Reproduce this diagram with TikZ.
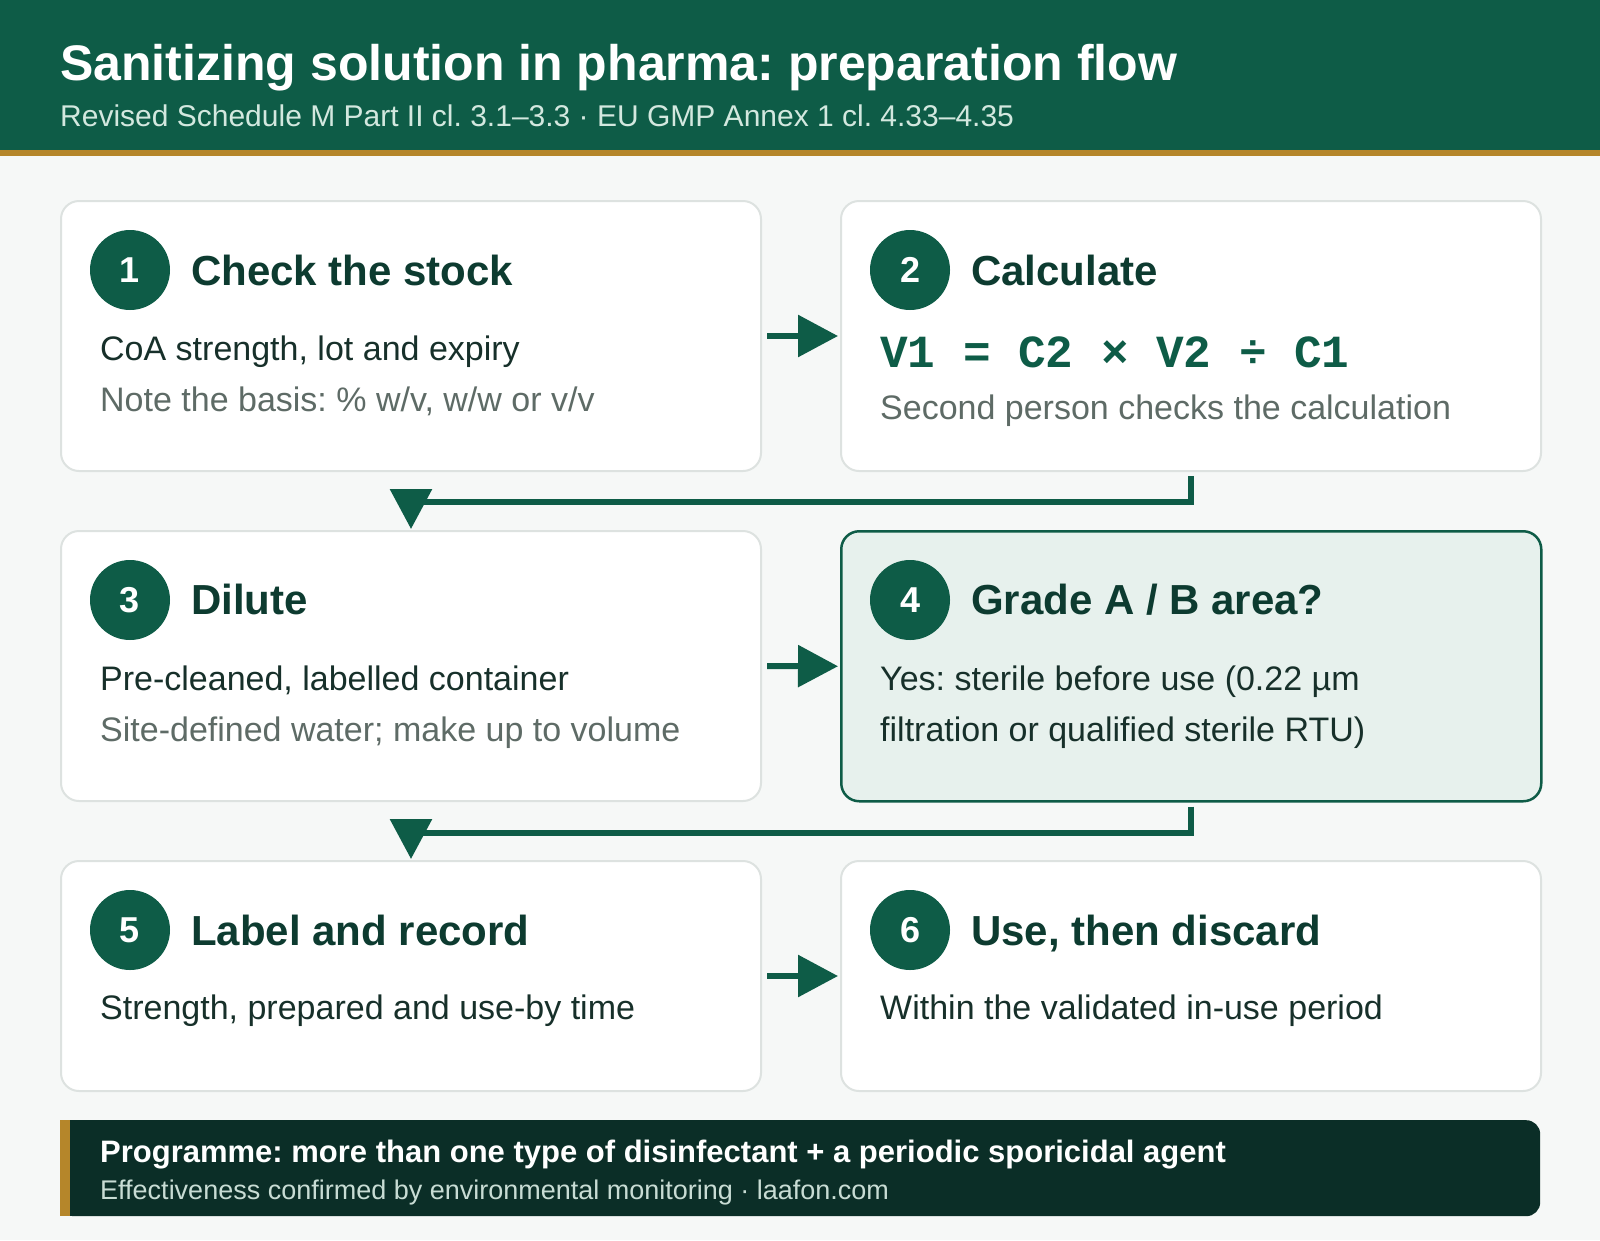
\documentclass[tikz,border=0pt]{standalone}
\usepackage{fontspec}
\setmainfont{Liberation Sans}
\newfontfamily\monob{Liberation Mono}
\usetikzlibrary{arrows.meta}
\frenchspacing
\definecolor{hdr}{HTML}{0E5C47}
\definecolor{gold}{HTML}{B5862A}
\definecolor{bg}{HTML}{F6F8F7}
\definecolor{cardline}{HTML}{DDE2E0}
\definecolor{ttl}{HTML}{0D3B30}
\definecolor{bodyc}{HTML}{17302A}
\definecolor{graytxt}{HTML}{5E6B66}
\definecolor{hilite}{HTML}{E7F1ED}
\definecolor{foot}{HTML}{0B2E27}
\definecolor{subt}{HTML}{D3E8DF}
\definecolor{footsub}{HTML}{C8DCD4}
\newcommand{\fsz}[1]{\fontsize{#1}{#1}\selectfont}
\begin{document}
\frenchspacing
\begin{tikzpicture}[x=1pt,y=-1pt,
  card/.style={draw=cardline, line width=2pt, fill=white, rounded corners=18pt,
    anchor=north west, minimum width=700pt, inner sep=0pt},
  hicard/.style={card, draw=hdr, line width=2.5pt, fill=hilite},
  num/.style={circle, fill=hdr, minimum size=80pt, inner sep=0pt, text=white,
    font=\bfseries\fsz{36}},
  ttlst/.style={anchor=base west, inner sep=0pt, text=ttl, font=\bfseries\fsz{42}},
  bodyst/.style={anchor=base west, inner sep=0pt, text=bodyc, font=\fsz{34}},
  grayst/.style={anchor=base west, inner sep=0pt, text=graytxt, font=\fsz{34}},
  conn/.style={draw=hdr, line width=6pt, -{Triangle[length=40pt,width=41pt]}}
]
\useasboundingbox (0,0) rectangle (1600,1240);
\fill[bg] (0,0) rectangle (1600,1240);
% header
\fill[hdr] (0,0) rectangle (1600,150);
\fill[gold] (0,150) rectangle (1600,156);
\node[anchor=base west, inner sep=0pt, text=white, font=\bfseries\fsz{50}] (title) at (60,80)
  {Sanitizing solution in pharma: preparation flow};
\node[anchor=base west, inner sep=0pt, text=subt, font=\fsz{30}] (subtitle) at (60,126)
  {Revised Schedule M Part II cl. 3.1–3.3 · EU GMP Annex 1 cl. 4.33–4.35};
% cards
\node[card, minimum height=270pt] (s1) at (60,200) {};
\node[card, minimum height=270pt] (s2) at (840,200) {};
\node[card, minimum height=270pt] (s3) at (60,530) {};
\node[hicard, minimum height=270pt] (s4) at (840,530) {};
\node[card, minimum height=230pt] (s5) at (60,860) {};
\node[card, minimum height=230pt] (s6) at (840,860) {};
% step 1
\node[num] (n1) at (130,270) {1};
\node[ttlst] (t1) at (191,285) {Check the stock};
\node[bodyst] (a1) at (100,360) {CoA strength, lot and expiry};
\node[grayst] (b1) at (100,411) {Note the basis: \% w/v, w/w or v/v};
% step 2
\node[num] (n2) at (910,270) {2};
\node[ttlst] (t2) at (971,285) {Calculate};
\node[anchor=base west, inner sep=0pt, text=hdr, font=\monob\bfseries\fsz{46}] (a2) at (880,367)
  {V1 = C2 × V2 ÷ C1};
\node[grayst] (b2) at (880,419) {Second person checks the calculation};
% step 3
\node[num] (n3) at (130,600) {3};
\node[ttlst] (t3) at (191,614) {Dilute};
\node[bodyst] (a3) at (100,690) {Pre-cleaned, labelled container};
\node[grayst] (b3) at (100,741) {Site-defined water; make up to volume};
% step 4
\node[num] (n4) at (910,600) {4};
\node[ttlst] (t4) at (971,614) {Grade A / B area?};
\node[bodyst] (a4) at (880,690) {Yes: sterile before use (0.22 µm};
\node[bodyst] (b4) at (880,741) {filtration or qualified sterile RTU)};
% step 5
\node[num] (n5) at (130,930) {5};
\node[ttlst] (t5) at (191,945) {Label and record};
\node[bodyst] (a5) at (100,1019) {Strength, prepared and use-by time};
% step 6
\node[num] (n6) at (910,930) {6};
\node[ttlst] (t6) at (971,945) {Use, then discard};
\node[bodyst] (a6) at (880,1019) {Within the validated in-use period};
% connectors
\draw[conn] ([xshift=5pt]s1.east) -- ([xshift=-2pt]s2.west);
\draw[conn] ([xshift=5pt]s3.east) -- ([xshift=-2pt]s4.west);
\draw[conn] ([xshift=5pt]s5.east) -- ([xshift=-2pt]s6.west);
\draw[conn] ([yshift=-4pt]s2.south) -- ++(0,26) -| ([yshift=1pt]s3.north);
\draw[conn] ([yshift=-4pt]s4.south) -- ++(0,26) -| ([yshift=1pt]s5.north);
% footer
\node[anchor=north west, fill=foot, rounded corners=14pt, minimum width=1480pt,
  minimum height=96pt, inner sep=0pt] (ft) at (60,1120) {};
\fill[foot] (60,1120) rectangle (100,1216);
\fill[gold] (60,1120) rectangle (70,1216);
\node[anchor=base west, inner sep=0pt, text=white, font=\bfseries\fsz{31}] (f1) at (100,1162)
  {Programme: more than one type of disinfectant + a periodic sporicidal agent};
\node[anchor=base west, inner sep=0pt, text=footsub, font=\fsz{27}] (f2) at (100,1199)
  {Effectiveness confirmed by environmental monitoring · laafon.com};
\end{tikzpicture}
\end{document}
